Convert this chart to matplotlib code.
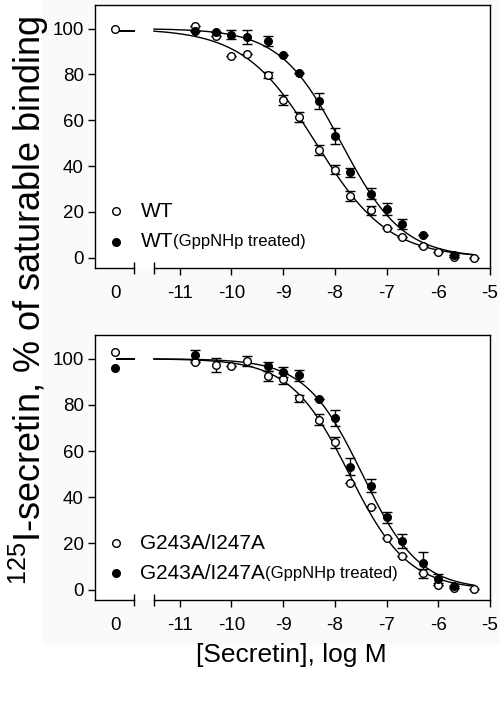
import numpy as np
import matplotlib
matplotlib.use('Agg')
import matplotlib.pyplot as plt
from matplotlib.patches import Rectangle
import matplotlib.transforms as mtransforms

plt.rcParams['font.family'] = ['Liberation Sans', 'DejaVu Sans']
plt.rcParams['mathtext.fontset'] = 'custom'
plt.rcParams['mathtext.rm'] = 'Liberation Sans'

# log M concentrations (control "0" handled separately)
log_conc = [-10.7, -10.3, -10.0, -9.7, -9.3, -9.0, -8.7, -8.3, -8.0, -7.7,
            -7.3, -7.0, -6.7, -6.3, -6.0, -5.7, -5.3]

# top panel: WT
wt_ctrl = 100.0
wt_vals = [101.0, 96.7, 88.0, 89.0, 79.7, 68.8, 61.3, 47.1, 38.4, 26.8,
           20.7, 13.0, 9.0, 5.1, 2.6, 0.4, 0.0]
wt_err = [0, 0, 0, 0, 1.2, 2.2, 2.2, 2.2, 2.0, 2.2,
          2.0, 0, 0, 0, 0, 0, 0]

wt_g_conc = [-10.7, -10.3, -10.0, -9.7, -9.3, -9.0, -8.7, -8.3, -8.0, -7.7,
             -7.3, -7.0, -6.7, -6.3, -5.7]
wt_g_vals = [99.0, 98.6, 97.4, 96.4, 94.6, 88.4, 80.4, 68.4, 53.2, 37.2,
             28.0, 21.3, 14.9, 9.9, 1.0]
wt_g_err = [0, 0, 2.0, 3.0, 2.0, 0, 0, 3.5, 3.5, 2.0,
            2.5, 2.5, 2.2, 0, 0]

# bottom panel: G243A/I247A
mut_ctrl = 103.0
mut_vals = [98.6, 97.2, 96.8, 99.0, 92.5, 91.4, 82.8, 73.6, 63.8, 46.1,
            35.7, 22.2, 14.5, 7.0, 2.2, 0.7, 0.4]
mut_err = [0, 3.0, 0, 2.0, 2.0, 2.5, 1.5, 2.5, 2.5, 0,
           0, 0, 0, 2.0, 0, 0, 0]

mut_g_ctrl = 96.1
mut_g_conc = [-10.7, -9.3, -9.0, -8.7, -8.3, -8.0, -7.7, -7.3, -7.0, -6.7,
              -6.3, -6.0, -5.7]
mut_g_vals = [101.6, 96.8, 94.3, 92.8, 82.6, 74.2, 53.3, 45.1, 31.3, 21.0,
              11.7, 4.8, 1.6]
mut_g_err = [2.0, 2.0, 2.0, 2.5, 0, 3.5, 3.5, 3.0, 2.5, 3.0,
             4.5, 2.0, 0]

x_ticks = [-11, -10, -9, -8, -7, -6, -5]
y_ticks = [0, 20, 40, 60, 80, 100]

CTRL_POS = -12.25      # where the "0" concentration sits on the broken axis
X_LEFT, X_RIGHT = -12.64, -5.0
BREAK_L, BREAK_R = -11.89, -11.5


def fit_logistic(x, y):
    # one-site competition fit (top 100, bottom 0) by grid search
    x = np.asarray(x, float)
    y = np.asarray(y, float)
    c = np.arange(-10.0, -6.0, 0.005)
    h = np.arange(0.3, 2.0, 0.005)
    C, H = np.meshgrid(c, h, indexing='ij')
    S = 100.0 / (1.0 + 10 ** ((x[None, None, :] - C[..., None]) * H[..., None]))
    res = ((S - y) ** 2).sum(-1)
    i, j = np.unravel_index(np.argmin(res), res.shape)
    return c[i], h[j]


def curve(p, xs):
    c, h = p
    return 100.0 / (1 + 10 ** ((np.asarray(xs) - c) * h))


def draw_panel(ax, series, legend_names):
    xs = np.linspace(BREAK_R, -5.3, 300)
    plateau = np.array([-12.21, BREAK_L])
    for conc, vals, err, ctrl, filled in series:
        p = fit_logistic(conc, vals)
        ax.plot(xs, curve(p, xs), color='black', lw=1.0, zorder=2)
        if ctrl is not None:
            lvl = curve(p, BREAK_R)
            ax.plot(plateau, [lvl, lvl], color='black', lw=1.4, zorder=2)
        face = 'black' if filled else 'white'
        ax.errorbar(conc, vals, yerr=err, fmt='none', ecolor='black',
                    elinewidth=1.0, capsize=3.5, capthick=1.0, zorder=3)
        ax.plot(conc, vals, 'o', ms=5.5, mfc=face, mec='black', mew=1.0,
                zorder=4, clip_on=False)
        if ctrl is not None:
            ax.plot([CTRL_POS], [ctrl], 'o', ms=5.5, mfc=face, mec='black',
                    mew=1.0, zorder=4, clip_on=False)

    ax.set_xlim(X_LEFT, X_RIGHT)
    ax.set_ylim(-4.5, 110.3)
    ax.set_yticks(y_ticks)
    ax.set_xticks([CTRL_POS] + x_ticks)
    ax.set_xticklabels(['0'] + [str(t) for t in x_ticks])
    ax.tick_params(direction='out', length=5, width=1.0, labelsize=13.5,
                   colors='black')
    ax.tick_params(axis='x', pad=7)
    ax.tick_params(axis='y', pad=3)
    ax.xaxis.get_major_ticks()[0].tick1line.set_visible(False)

    # broken bottom axis
    ax.spines['bottom'].set_visible(False)
    trans = mtransforms.blended_transform_factory(ax.transData, ax.transAxes)
    for a, b in [(X_LEFT, BREAK_L), (BREAK_R, X_RIGHT)]:
        ax.plot([a, b], [0, 0], color='black', lw=1.0, transform=trans,
                clip_on=False)
    ax.plot([BREAK_L, BREAK_R], [0, 0], '|', color='black', ms=8, mew=1.0,
            transform=trans, clip_on=False)
    for s in ['left', 'top', 'right']:
        ax.spines[s].set_linewidth(1.0)

    # legend drawn by hand (mixed font sizes)
    for k, (name, extra) in enumerate(legend_names):
        yy = 0.215 - k * 0.115
        face = 'black' if k == 1 else 'white'
        ax.plot([0.053], [yy], 'o', ms=5.5, mfc=face, mec='black', mew=1.0,
                transform=ax.transAxes)
        t = ax.text(0.115, yy, name, transform=ax.transAxes, fontsize=15,
                    va='center', ha='left')
        if extra:
            ax.annotate(extra, xy=(1, 0.12), xycoords=t, fontsize=12,
                        va='bottom', ha='left')


fig = plt.figure(figsize=(5.0, 7.02), dpi=100)
fig.patches.append(Rectangle((0.086, 0.083), 0.914, 0.917, color='#fafafa',
                             transform=fig.transFigure, zorder=-1))

ax1 = fig.add_axes([0.19, 0.6182, 0.79, 0.3747])
ax2 = fig.add_axes([0.19, 0.1453, 0.79, 0.3775])

draw_panel(ax1, [(log_conc, wt_vals, wt_err, wt_ctrl, False),
                 (wt_g_conc, wt_g_vals, wt_g_err, None, True)],
           [('WT', ''), ('WT', '(GppNHp treated)')])
draw_panel(ax2, [(log_conc, mut_vals, mut_err, mut_ctrl, False),
                 (mut_g_conc, mut_g_vals, mut_g_err, mut_g_ctrl, True)],
           [('G243A/I247A', ''), ('G243A/I247A', '(GppNHp treated)')])

fig.text(0.058, 0.572, r'$\mathregular{^{125}}$I-secretin, % of saturable binding',
         rotation=90, ha='center', va='center', fontsize=26)
fig.text(0.582, 0.067, '[Secretin], log M', ha='center', va='center',
         fontsize=19)

fig.savefig('out.png', dpi=100, facecolor='white')
